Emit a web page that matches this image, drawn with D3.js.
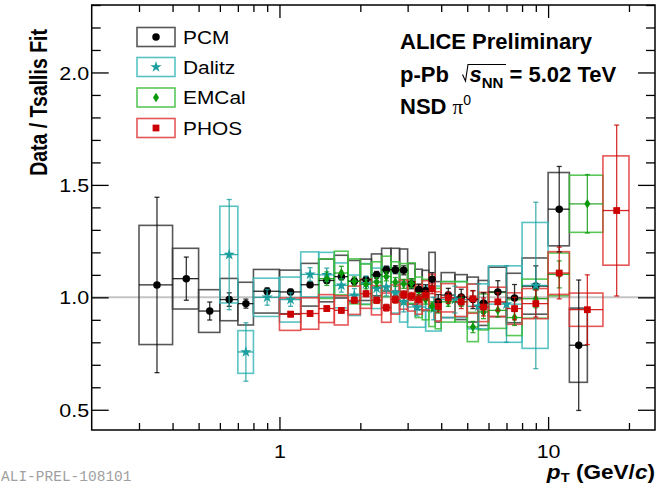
<!DOCTYPE html>
<html><head><meta charset="utf-8">
<script src="https://cdn.jsdelivr.net/npm/d3@7"></script>
<style>html,body{margin:0;padding:0;background:#fff}svg{display:block}</style>
</head><body>
<svg id="c" width="670" height="485"></svg>
<script>
// ---- data ----
const pcmLo   = [0.3,0.4,0.5,0.6,0.7,0.8,1.0,1.2,1.4,1.6,1.8,2.0,2.2,2.4,2.6,2.8,3.0,3.2,3.4,3.6,3.8,4.0,4.5,5.0,5.5,6.0,7.0,8.0,10.0,12.0];
const pcmHi   = [0.4,0.5,0.6,0.7,0.8,1.0,1.2,1.4,1.6,1.8,2.0,2.2,2.4,2.6,2.8,3.0,3.2,3.4,3.6,3.8,4.0,4.5,5.0,5.5,6.0,7.0,8.0,10.0,12.0,14.0];
const pcmVal  = [1.055,1.083,0.939,0.990,0.972,1.027,1.024,1.056,1.075,1.092,1.072,1.078,1.100,1.123,1.123,1.120,1.060,1.035,1.030,1.080,0.980,1.010,1.001,0.990,0.975,1.024,0.997,1.050,1.392,0.787];
const pcmStat = [0.39,0.096,0.04,0.03,0.02,0.015,0.012,0.012,0.012,0.013,0.013,0.014,0.015,0.016,0.018,0.02,0.022,0.024,0.026,0.03,0.032,0.03,0.035,0.04,0.045,0.05,0.06,0.09,0.19,0.29];
const pcmSys  = [0.265,0.135,0.095,0.094,0.095,0.097,0.097,0.095,0.095,0.095,0.092,0.092,0.093,0.095,0.095,0.095,0.09,0.09,0.09,0.12,0.09,0.1,0.1,0.1,0.1,0.11,0.11,0.125,0.163,0.165];

const dalLo   = [0.6,0.7,0.8,1.0,1.2,1.4,1.6,1.8,2.0,2.2,2.4,2.6,2.8,3.0,3.5,4.0,5.0,6.0,8.0];
const dalHi   = [0.7,0.8,1.0,1.2,1.4,1.6,1.8,2.0,2.2,2.4,2.6,2.8,3.0,3.5,4.0,5.0,6.0,8.0,10.0];
const dalVal  = [1.19,0.757,1.0,0.99,1.102,1.10,1.053,1.009,1.06,1.04,1.046,1.02,0.98,0.957,0.95,0.99,0.96,0.97,1.053];
const dalStat = [0.245,0.13,0.035,0.03,0.03,0.03,0.03,0.03,0.035,0.035,0.04,0.04,0.045,0.04,0.05,0.06,0.1,0.17,0.37];
const dalSys  = [0.215,0.095,0.085,0.1,0.1,0.1,0.1,0.09,0.09,0.09,0.09,0.09,0.09,0.09,0.1,0.08,0.1,0.17,0.28];

const emcLo   = [1.4,1.6,1.8,2.0,2.2,2.4,2.6,2.8,3.0,3.2,3.4,3.6,3.8,4.0,4.5,5.0,5.5,6.0,7.0,8.0,10.0,12.0];
const emcHi   = [1.6,1.8,2.0,2.2,2.4,2.6,2.8,3.0,3.2,3.4,3.6,3.8,4.0,4.5,5.0,5.5,6.0,7.0,8.0,10.0,12.0,16.0];
const emcVal  = [1.083,1.108,1.071,1.058,1.068,1.093,1.068,1.06,1.063,1.0,0.99,0.96,0.95,0.98,0.98,0.868,0.935,0.942,0.91,0.994,1.102,1.416];
const emcStat = [0.03,0.03,0.02,0.02,0.02,0.02,0.02,0.02,0.02,0.02,0.02,0.02,0.02,0.02,0.02,0.025,0.03,0.03,0.035,0.04,0.06,0.13];
const emcSys  = [0.088,0.097,0.1,0.09,0.09,0.09,0.09,0.09,0.09,0.09,0.09,0.09,0.09,0.09,0.09,0.065,0.08,0.08,0.08,0.087,0.095,0.127];

const phosLo   = [1.0,1.2,1.4,1.6,1.8,2.0,2.2,2.4,2.6,2.8,3.0,3.2,3.4,3.6,3.8,4.0,4.5,5.0,5.5,6.0,7.0,8.0,10.0,12.0,16.0];
const phosHi   = [1.2,1.4,1.6,1.8,2.0,2.2,2.4,2.6,2.8,3.0,3.2,3.4,3.6,3.8,4.0,4.5,5.0,5.5,6.0,7.0,8.0,10.0,12.0,16.0,20.0];
const phosVal  = [0.925,0.928,0.95,0.942,0.987,1.016,0.987,0.954,0.99,1.012,1.004,0.99,1.009,1.038,0.96,0.998,0.98,0.994,0.957,0.98,0.95,0.972,1.108,0.945,1.386];
const phosStat = [0.012,0.012,0.012,0.012,0.013,0.013,0.014,0.015,0.016,0.017,0.018,0.02,0.02,0.022,0.025,0.025,0.03,0.035,0.04,0.04,0.05,0.06,0.115,0.155,0.38];
const phosSys  = [0.072,0.07,0.062,0.065,0.063,0.065,0.065,0.065,0.065,0.065,0.065,0.065,0.065,0.065,0.065,0.063,0.065,0.065,0.065,0.065,0.07,0.067,0.095,0.074,0.243];

const seriesNames = ["PCM","Dalitz","EMCal","PHOS"];
const yMajorTicks = [0.5,1.0,1.5,2.0];
const xMajorTicks = [1,10];
const xMinorTicks = [0.3,0.4,0.5,0.6,0.7,0.8,0.9,2,3,4,5,6,7,8,9,20];

// ---- layout ----
const svg = d3.select("#c");
const L = 91.7, R = 655, T = 5, B = 430;
const x = d3.scaleLog().domain([0.2, 25]).range([L, R]);
const y = d3.scaleLinear().domain([0.41, 2.3]).range([B, T]);
const yMinorTicks = d3.range(5, 24).map(d => d/10).filter(v => !yMajorTicks.some(m => Math.abs(m-v) < 1e-6));

const styles = [
  {box:"#3a3a3a", mk:"#000000", shape:"circle"},
  {box:"#3cb8b8", mk:"#1a9e9e", shape:"star"},
  {box:"#3bbd3b", mk:"#0a990a", shape:"diamond"},
  {box:"#e03a3a", mk:"#cc0000", shape:"square"}
];
const series = [
  {lo:pcmLo, hi:pcmHi, v:pcmVal, st:pcmStat, sy:pcmSys},
  {lo:dalLo, hi:dalHi, v:dalVal, st:dalStat, sy:dalSys},
  {lo:emcLo, hi:emcHi, v:emcVal, st:emcStat, sy:emcSys},
  {lo:phosLo, hi:phosHi, v:phosVal, st:phosStat, sy:phosSys}
];

function markerPath(shape) {
  if (shape === "circle") return d3.symbol(d3.symbolCircle, 44)();
  if (shape === "star") return d3.symbol(d3.symbolStar, 40)();
  if (shape === "square") return d3.symbol(d3.symbolSquare, 46)();
  return "M0,-4.8L3,0L0,4.8L-3,0Z";
}

// reference line at 1
svg.append("line").attr("x1", L).attr("x2", R).attr("y1", y(1)).attr("y2", y(1))
  .attr("stroke", "#c4c4c4").attr("stroke-width", 2);

// systematic boxes
const gBox = svg.append("g");
series.forEach((s, k) => {
  const st = styles[k];
  s.v.forEach((v, i) => {
    gBox.append("rect")
      .attr("x", x(s.lo[i])).attr("width", x(s.hi[i]) - x(s.lo[i]))
      .attr("y", y(v + s.sy[i])).attr("height", y(v - s.sy[i]) - y(v + s.sy[i]))
      .attr("fill", "none").attr("stroke", st.box).attr("stroke-width", 1.6).attr("stroke-opacity", 0.85);
  });
});

// stat errors, bin width lines, markers
const gPts = svg.append("g");
series.forEach((s, k) => {
  const st = styles[k];
  s.v.forEach((v, i) => {
    const cx = x((s.lo[i] + s.hi[i]) / 2);
    gPts.append("line").attr("x1", x(s.lo[i])).attr("x2", x(s.hi[i]))
      .attr("y1", y(v)).attr("y2", y(v)).attr("stroke", st.mk).attr("stroke-width", 1.3).attr("stroke-opacity", 0.85);
    gPts.append("line").attr("x1", cx).attr("x2", cx)
      .attr("y1", y(v + s.st[i])).attr("y2", y(v - s.st[i])).attr("stroke", st.mk).attr("stroke-width", 1.3).attr("stroke-opacity", 0.8);
    [v + s.st[i], v - s.st[i]].forEach(e => {
      gPts.append("line").attr("x1", cx - 2.5).attr("x2", cx + 2.5).attr("y1", y(e)).attr("y2", y(e))
        .attr("stroke", st.mk).attr("stroke-width", 1.3).attr("stroke-opacity", 0.8);
    });
    gPts.append("path").attr("d", markerPath(st.shape))
      .attr("transform", `translate(${cx},${y(v)})`).attr("fill", st.mk);
  });
});

// axes
const font = "'Liberation Sans', Arial, Helvetica, sans-serif";
const SX = 1.13; // horizontal text stretch seen in the reference
function axisG(axis, tx, ty) {
  const g = svg.append("g").attr("transform", `translate(${tx},${ty})`).call(axis);
  g.select(".domain").remove();
  g.selectAll(".tick line").attr("stroke", "#000").attr("stroke-width", 1.3);
  return g;
}
const fmt = d3.format(".1f");
const gyl = axisG(d3.axisLeft(y).tickValues(yMajorTicks).tickSize(-17).tickFormat(fmt), L, 0);
gyl.selectAll("text").attr("x", 0).attr("dy", "0.35em").attr("transform", `translate(-2.5,0) scale(${SX},1)`)
  .attr("font-family", font).attr("font-size", 19).attr("fill", "#000");
axisG(d3.axisLeft(y).tickValues(yMinorTicks).tickSize(-9).tickFormat(""), L, 0);
axisG(d3.axisRight(y).tickValues(yMajorTicks).tickSize(-17).tickFormat(""), R, 0);
axisG(d3.axisRight(y).tickValues(yMinorTicks).tickSize(-9).tickFormat(""), R, 0);
const gxb = axisG(d3.axisBottom(x).tickValues(xMajorTicks).tickSize(-13).tickFormat(d3.format("d")), 0, B);
gxb.selectAll("text").attr("y", 0).attr("dy", 0).attr("transform", `translate(0,27.5) scale(${SX},1)`)
  .attr("font-family", font).attr("font-size", 19).attr("fill", "#000");
axisG(d3.axisBottom(x).tickValues(xMinorTicks).tickSize(-7).tickFormat(""), 0, B);
axisG(d3.axisTop(x).tickValues(xMajorTicks).tickSize(-13).tickFormat(""), 0, T);
axisG(d3.axisTop(x).tickValues(xMinorTicks).tickSize(-7).tickFormat(""), 0, T);

// frame
svg.append("rect").attr("x", L).attr("y", T).attr("width", R - L).attr("height", B - T)
  .attr("fill", "none").attr("stroke", "#000").attr("stroke-width", 1.5);

// axis titles
svg.append("text").attr("transform", `translate(46.5,29) scale(1.2,1) rotate(-90)`).attr("text-anchor", "end")
  .attr("font-family", font).attr("font-weight", "bold").attr("font-size", 19.5).text("Data / Tsallis Fit");
const xt = svg.append("text").attr("transform", `translate(${R},479) scale(${SX},1)`).attr("text-anchor", "end")
  .attr("font-family", font).attr("font-weight", "bold").attr("font-size", 20);
xt.append("tspan").attr("font-style", "italic").text("p");
xt.append("tspan").attr("font-size", 13).attr("dy", 3).text("T");
xt.append("tspan").attr("dy", -3).text(" (GeV/");
xt.append("tspan").attr("font-style", "italic").text("c");
xt.append("tspan").text(")");

// legend
const legY = [37, 67, 97.5, 128];
seriesNames.forEach((n, k) => {
  const st = styles[k];
  svg.append("rect").attr("x", 137).attr("y", legY[k] - 9.5).attr("width", 38).attr("height", 19)
    .attr("fill", "none").attr("stroke", st.box).attr("stroke-width", 1.6).attr("stroke-opacity", 0.85);
  svg.append("path").attr("d", markerPath(st.shape)).attr("transform", `translate(156,${legY[k]})`).attr("fill", st.mk);
  svg.append("text").attr("transform", `translate(183,${legY[k] + 6.8}) scale(${SX},1)`)
    .attr("font-family", font).attr("font-size", 18.5).text(n);
});

// annotation
svg.append("text").attr("x", 400).attr("y", 49).attr("font-family", font).attr("font-weight", "bold")
  .attr("font-size", 22).text("ALICE Preliminary");
const l2 = svg.append("text").attr("x", 400).attr("y", 81.5).attr("font-family", font).attr("font-weight", "bold").attr("font-size", 22);
l2.append("tspan").text("p-Pb");
l2.append("tspan").attr("x", 469.5).attr("font-style", "italic").text("s");
l2.append("tspan").attr("font-size", 15).attr("dy", 6).text("NN");
l2.append("tspan").attr("dy", -6).text(" = 5.02 TeV");
svg.append("path").attr("d", "M462.5,74.5L465.5,81L468,64.5L506,64.5").attr("fill", "none").attr("stroke", "#000").attr("stroke-width", 1.1);
const l3 = svg.append("text").attr("x", 400).attr("y", 113.5).attr("font-family", font).attr("font-weight", "bold").attr("font-size", 22);
l3.append("tspan").text("NSD ");
l3.append("tspan").attr("font-family", "'Liberation Serif', 'Times New Roman', serif").attr("font-weight", "normal").attr("font-size", 21).text("π");
l3.append("tspan").attr("font-size", 14).attr("font-weight", "normal").attr("dy", -9).text("0");

// watermark
svg.append("text").attr("x", 1).attr("y", 480.5).attr("font-family", "'Liberation Mono', 'DejaVu Sans Mono', monospace")
  .attr("font-size", 14.5).attr("fill", "#a0a0a0").text("ALI-PREL-108101");
</script>
</body></html>
